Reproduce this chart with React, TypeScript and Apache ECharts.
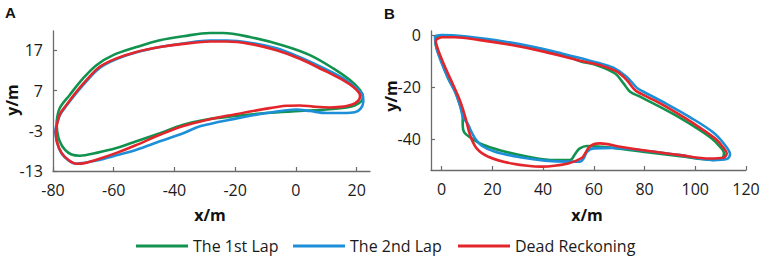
import React, { useEffect, useRef } from "react";
import * as echarts from "echarts";

// ---- Data (metres) ----
const seriesNames = ["The 1st Lap", "The 2nd Lap", "Dead Reckoning"];
const seriesColors = ["#12924f", "#1d8fd9", "#e3262b"];
const legendLefts = [131, 288, 453];

// Panel A
const lap1A: number[][] = [
  [-78.8, -0.7], [-77.8, 2.6], [-74.5, 5.9], [-70.1, 10.0], [-65.7, 13.3], [-60.2, 15.8],
  [-52.5, 17.8], [-44.8, 19.5], [-37.1, 20.5], [-28.3, 21.3], [-24.0, 21.3], [-15.2, 20.3],
  [-4.2, 18.2], [4.6, 15.8], [12.3, 12.5], [17.8, 9.6], [21.1, 7.1], [22.0, 5.5], [21.6, 4.4],
  [19.5, 3.3], [16.7, 2.8], [10.1, 2.3], [1.3, 1.9], [-9.7, 1.4], [-20.7, 0.6], [-29.4, -0.2],
  [-37.1, -1.5], [-44.8, -3.6], [-52.5, -5.6], [-59.1, -7.3], [-65.7, -8.5], [-71.2, -9.2],
  [-73.9, -8.9], [-76.1, -7.7], [-77.8, -5.6], [-78.6, -3.2], [-78.8, -0.7],
];
const lap2A: number[][] = [
  [-79.3, -3.0], [-77.8, 0.8], [-75.6, 3.2], [-72.3, 6.4], [-69.0, 9.3], [-64.6, 12.6],
  [-59.1, 14.8], [-52.5, 16.5], [-44.8, 17.8], [-37.1, 18.7], [-28.3, 19.4], [-22.8, 19.4],
  [-15.2, 18.9], [-6.4, 17.5], [1.3, 15.3], [9.0, 12.6], [15.6, 10.0], [20.0, 7.5], [22.0, 5.9],
  [22.2, 4.3], [21.3, 2.5], [19.4, 1.6], [15.6, 1.4], [10.1, 1.4], [4.6, 1.9], [0.2, 2.3],
  [-9.7, 1.4], [-20.7, -0.1], [-31.6, -1.9], [-37.1, -3.6], [-44.8, -5.6], [-52.5, -7.7],
  [-59.1, -9.1], [-65.7, -10.4], [-70.1, -11.0], [-72.3, -11.2], [-75.0, -10.3], [-77.2, -8.6],
  [-78.6, -6.1], [-79.3, -3.0],
];
const deadA: number[][] = [
  [-79.1, -3.2], [-77.8, 1.0], [-75.6, 3.4], [-72.3, 6.7], [-69.0, 9.6], [-64.6, 12.9],
  [-59.1, 15.0], [-52.5, 16.6], [-44.8, 17.8], [-37.1, 18.6], [-28.3, 19.2], [-22.8, 19.2],
  [-15.2, 18.6], [-6.4, 17.0], [1.3, 14.9], [9.0, 12.1], [14.5, 10.0], [18.9, 7.9], [20.9, 6.3],
  [21.1, 5.5], [19.4, 3.8], [15.6, 3.0], [11.2, 2.8], [5.7, 3.0], [1.3, 3.3], [-3.1, 3.2],
  [-9.7, 2.5], [-20.7, 1.0], [-29.4, -0.3], [-37.1, -1.8], [-44.8, -4.0], [-52.5, -6.5],
  [-59.1, -8.5], [-65.7, -10.2], [-70.1, -11.1], [-72.3, -11.2], [-75.0, -10.2], [-77.2, -8.5],
  [-78.6, -6.0], [-79.1, -3.2],
];

// Panel B
const lap1B: number[][] = [
  [-2.5, -0.8], [0, -0.3], [7.9, -0.6], [21.0, -2.2], [34.1, -4.4], [47.3, -7.3], [54.6, -10.0],
  [61.2, -11.5], [68.4, -14.7], [71.7, -18.5], [74.3, -21.7], [77.6, -23.3], [86.1, -27.5],
  [94.0, -31.7], [101.2, -36.0], [106.5, -39.6], [109.8, -42.8], [111.3, -45.1], [110.8, -47.0],
  [107.1, -47.8], [94.0, -46.4], [80.9, -44.9], [67.7, -43.2], [57.3, -42.5], [54.5, -43.4],
  [52.8, -45.3], [50.6, -47.9], [44.7, -47.9], [34.1, -46.6], [23.6, -44.3], [15.8, -41.8],
  [11.2, -39.2], [8.9, -37.3], [8.3, -34.5], [8.3, -30.7], [7.2, -26.8], [5.3, -21.7],
  [2.6, -16.6], [0, -10.2], [-2.4, -3.2], [-2.5, -0.8],
];
const lap2B: number[][] = [
  [-2.6, -0.3], [0, 0], [7.9, -0.3], [21.0, -1.9], [34.1, -4.1], [47.3, -7.0], [57.8, -9.6],
  [61.2, -10.5], [67.7, -12.5], [73.0, -16.0], [77.0, -20.2], [79.6, -21.7], [88.8, -26.4],
  [98.0, -31.5], [107.1, -37.3], [111.7, -42.1], [113.7, -45.7], [112.4, -47.5], [107.1, -47.9],
  [94.0, -46.0], [80.9, -44.4], [67.7, -43.2], [59.9, -43.4], [57.3, -44.7], [56.0, -47.2],
  [54.6, -48.5], [49.9, -48.5], [40.7, -48.1], [31.5, -46.9], [21.0, -44.7], [15.8, -42.4],
  [13.2, -39.6], [11.6, -36.8], [10.2, -33.8], [8.5, -31.7], [7.2, -26.8], [5.3, -21.7],
  [2.6, -16.6], [-0.2, -10.2], [-2.0, -5.1], [-2.6, -1.3], [-2.6, -0.3],
];
const deadB: number[][] = [
  [-2.4, -1.9], [0, -0.8], [5.3, -0.8], [14.5, -1.8], [27.6, -3.8], [40.7, -6.4], [54.6, -9.8],
  [62.5, -11.5], [69.1, -14.0], [73.0, -17.2], [76.3, -21.1], [78.9, -22.6], [87.4, -26.8],
  [96.7, -32.2], [103.2, -36.4], [108.5, -40.2], [111.3, -43.4], [112.4, -45.3], [111.1, -47.0],
  [105.8, -47.3], [94.0, -46.0], [80.9, -44.3], [70.4, -42.8], [62.5, -41.5], [59.9, -41.8],
  [57.9, -43.2], [56.6, -45.3], [55.2, -47.1], [49.9, -49.2], [39.4, -50.4], [27.6, -49.2],
  [18.4, -46.6], [13.8, -43.4], [11.2, -38.3], [9.8, -33.2], [8.5, -28.7], [6.9, -24.3],
  [4.6, -19.2], [1.6, -12.8], [-0.6, -7.7], [-2.0, -3.8], [-2.4, -1.9],
];

// Tick labels
const xTicksA = [-80, -60, -40, -20, 0, 20];
const yTicksA = [-13, -3, 7, 17];
const xTicksB = [0, 20, 40, 60, 80, 100, 120];
const yTicksB = [-40, -20, 0];

const AXIS_COLOR = "#6b6b6b";
const TEXT_COLOR = "#1a1a1a";
const FONT = "Open Sans";

function makeAxis(gridIndex: number, min: number, max: number, ticks: number[], isX: boolean) {
  return {
    type: "value",
    gridIndex,
    min,
    max,
    axisLine: { show: true, onZero: false, lineStyle: { color: AXIS_COLOR, width: 1.3 } },
    axisTick: { show: true, inside: true, length: 4, customValues: ticks, lineStyle: { color: AXIS_COLOR, width: 1.2 } },
    axisLabel: {
      show: true,
      customValues: ticks,
      color: TEXT_COLOR,
      fontSize: 16,
      fontFamily: FONT,
      margin: isX ? 11 : 10,
    },
    splitLine: { show: false },
  };
}

export default function App() {
  const ref = useRef<HTMLDivElement>(null);
  useEffect(() => {
    if (!ref.current) return;
    const chart = echarts.init(ref.current, null, { renderer: "svg" });
    const panelData = [
      [lap1A, lap2A, deadA],
      [lap1B, lap2B, deadB],
    ];
    const series: any[] = [];
    panelData.forEach((group, p) => {
      group.forEach((d, i) => {
        series.push({
          name: seriesNames[i],
          type: "line",
          xAxisIndex: p,
          yAxisIndex: p,
          data: d,
          symbol: "none",
          smooth: 0.35,
          lineStyle: { color: seriesColors[i], width: 2.6 },
          itemStyle: { color: seriesColors[i] },
          z: 2 + i,
        });
      });
    });
    chart.setOption({
      animation: false,
      backgroundColor: "#ffffff",
      grid: [
        { left: 53, top: 31, width: 317, height: 140 },
        { left: 431, top: 31, width: 315, height: 139 },
      ],
      xAxis: [
        makeAxis(0, -80, 24.4, xTicksA, true),
        makeAxis(1, -4.2, 120, xTicksB, true),
      ],
      yAxis: [
        makeAxis(0, -13, 21.8, yTicksA, false),
        makeAxis(1, -51.7, 1.6, yTicksB, false),
      ],
      legend: seriesNames.map((name, i) => ({
        data: [name],
        left: legendLefts[i],
        top: 233,
        icon: "rect",
        itemWidth: 52,
        itemHeight: 3,
        selectedMode: false,
        textStyle: { color: TEXT_COLOR, fontSize: 16, fontFamily: FONT },
      })),
      graphic: [
        { type: "text", left: 5, top: 5, style: { text: "A", font: "bold 15px 'Liberation Sans'", fill: "#111" } },
        { type: "text", left: 384, top: 6, style: { text: "B", font: "bold 15px 'Liberation Sans'", fill: "#111" } },
        { type: "text", x: 210, y: 215, style: { text: "x/m", font: `bold 16px '${FONT}'`, fill: "#111", align: "center", verticalAlign: "middle" } },
        { type: "text", x: 587, y: 215, style: { text: "x/m", font: `bold 16px '${FONT}'`, fill: "#111", align: "center", verticalAlign: "middle" } },
        { type: "text", x: 12, y: 100, rotation: Math.PI / 2, style: { text: "y/m", font: `bold 16px '${FONT}'`, fill: "#111", align: "center", verticalAlign: "middle" } },
        { type: "text", x: 391, y: 96, rotation: Math.PI / 2, style: { text: "y/m", font: `bold 16px '${FONT}'`, fill: "#111", align: "center", verticalAlign: "middle" } },
      ],
      series,
    });
    return () => chart.dispose();
  }, []);
  return <div ref={ref} style={{ position: "absolute", left: 0, top: 0, width: 765, height: 259 }} />;
}
